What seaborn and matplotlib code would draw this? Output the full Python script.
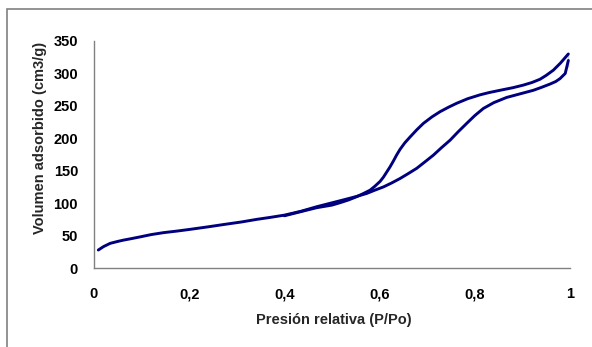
import matplotlib
matplotlib.use("Agg")
import matplotlib.pyplot as plt
import seaborn as sns
from matplotlib.patches import Rectangle

# Adsorption branch (lower curve)
ads_x = [0.009, 0.02, 0.034, 0.05, 0.062, 0.08, 0.097, 0.12, 0.146, 0.175, 0.202,
         0.24, 0.272, 0.31, 0.342, 0.37, 0.40, 0.435, 0.468, 0.50, 0.524, 0.55,
         0.573, 0.59, 0.608, 0.625, 0.643, 0.66, 0.678, 0.695, 0.713, 0.73, 0.748,
         0.765, 0.783, 0.80, 0.818, 0.84, 0.867, 0.895, 0.923, 0.94, 0.958, 0.97,
         0.979, 0.99, 0.9965, 0.9965]
ads_y = [27.7, 33, 38, 41, 43, 45.5, 48, 51.5, 54.5, 57, 59.6,
         63.5, 67, 71, 75, 78, 81.5, 87.5, 94.5, 100.5, 105, 110,
         115, 120, 125, 131, 138, 145.5, 153.7, 163.5, 174, 185.5, 197,
         210, 223, 235, 246, 255, 263, 268.5, 274, 278.5, 283.6, 287.5,
         292, 300, 310, 330]

# Desorption branch (upper curve)
des_x = [0.9965, 0.98, 0.965, 0.95, 0.937, 0.92, 0.902, 0.88, 0.853, 0.83, 0.811,
         0.785, 0.762, 0.745, 0.727, 0.71, 0.692, 0.678, 0.664, 0.653, 0.643,
         0.636, 0.629, 0.622, 0.615, 0.608, 0.601, 0.59, 0.58, 0.565, 0.552, 0.535,
         0.517, 0.50, 0.468, 0.435, 0.40]
des_y = [330, 316, 305, 297, 291, 286, 282, 278, 274, 270.5, 267,
         261, 254, 248, 241, 233, 223, 213, 202, 193, 183,
         174.5, 165, 156, 148, 140, 133.5, 126, 120, 114.5, 110, 105,
         100.7, 97, 93, 87, 80.5]

x_ticks = [0, 0.2, 0.4, 0.6, 0.8, 1.0]
x_tick_labels = ["0", "0,2", "0,4", "0,6", "0,8", "1"]
y_ticks = [0, 50, 100, 150, 200, 250, 300, 350]

sns.set_style("white")
plt.rcParams["font.family"] = ["Liberation Sans", "DejaVu Sans"]

W, H = 592, 347
fig = plt.figure(figsize=(W / 100, H / 100), dpi=100)
ax = fig.add_axes([94 / W, 1 - 268 / H, (570 - 94) / W, (268 - 41) / H])

line_color = "#00007f"
sns.lineplot(x=ads_x, y=ads_y, sort=False, ax=ax, color=line_color, linewidth=2.1)
sns.lineplot(x=des_x, y=des_y, sort=False, ax=ax, color=line_color, linewidth=2.1)

ax.set_xlim(0, 1)
ax.set_ylim(0, 350)
ax.set_xticks(x_ticks)
ax.set_xticklabels(x_tick_labels)
ax.set_yticks(y_ticks)

for side in ["top", "right"]:
    ax.spines[side].set_visible(False)
for side in ["left", "bottom"]:
    ax.spines[side].set_color("#808080")
    ax.spines[side].set_linewidth(1.0)

ax.tick_params(axis="both", direction="out", length=3, width=1, color="#808080",
               labelsize=10.5, labelcolor="black")
ax.tick_params(axis="x", pad=11)
ax.tick_params(axis="y", pad=8.5)
for lbl in ax.get_xticklabels() + ax.get_yticklabels():
    lbl.set_fontweight("bold")

ax.set_xlabel("")
ax.set_ylabel("")
fig.text(334 / W, 1 - 320 / H, "Presión relativa (P/Po)", ha="center", va="center",
         fontsize=10.5, fontweight="bold")
fig.text(40 / W, 1 - 138 / H, "Volumen adsorbido (cm3/g)", ha="center", va="center",
         rotation=90, fontsize=10.5, fontweight="bold")

# outer frame (extends beyond the image on right and bottom)
fig.patches.append(Rectangle((7 / W, -0.2), 1.2, 1 - 9 / H + 0.2,
                             transform=fig.transFigure, fill=False,
                             edgecolor="#808080", linewidth=1.2))

fig.savefig("out.png", dpi=100)
